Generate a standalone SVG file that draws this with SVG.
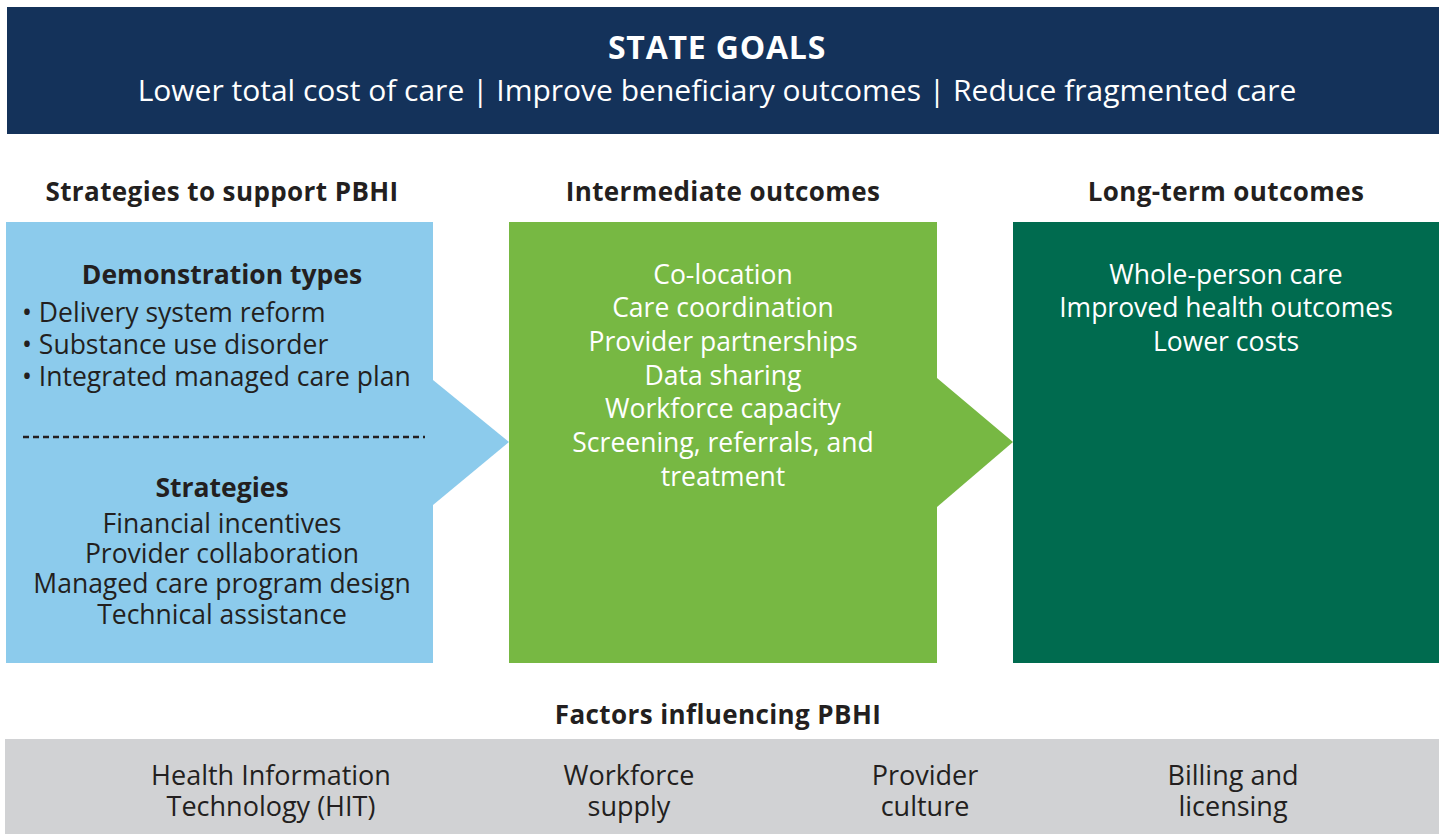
<svg xmlns="http://www.w3.org/2000/svg" width="1445" height="834" viewBox="0 0 1445 834">
<style>
text{font-family:"Open Sans",Lato,"Liberation Sans",sans-serif;text-anchor:middle}
.w{fill:#ffffff}
.k{fill:#231f20}
.b{font-weight:700}
.hd{font-size:26px;font-weight:700;fill:#231f20;letter-spacing:0.4px}
.sub{font-size:26.5px;font-weight:700;fill:#231f20}
.body{font-size:26.5px}
.gray{font-size:27px;fill:#231f20}
.l{text-anchor:start}
</style>
<rect width="1445" height="834" fill="#ffffff"/>
<g id="state-goals">
<rect x="7" y="7" width="1432" height="127" fill="#14325a"/>
<text x="717" y="59" class="w b" font-size="32" letter-spacing="0.8">STATE GOALS</text>
<text x="717" y="101" class="w" font-size="30">Lower total cost of care | Improve beneficiary outcomes | Reduce fragmented care</text>
</g>
<g id="headers">
<text x="222" y="201" class="hd">Strategies to support PBHI</text>
<text x="723" y="201" class="hd">Intermediate outcomes</text>
<text x="1226" y="201" class="hd">Long-term outcomes</text>
<text x="718" y="724" class="hd">Factors influencing PBHI</text>
</g>
<g id="connectors">
<polygon points="433,380 509,442 433,505" fill="#8ccbec"/>
<polygon points="937,378 1013,442 937,507" fill="#77b843"/>
</g>
<g id="strategies">
<rect x="6" y="222" width="427" height="441" fill="#8ccbec"/>
<text x="222" y="284" class="sub">Demonstration types</text>
<text x="22" y="322" class="k body l">• Delivery system reform</text>
<text x="22" y="354" class="k body l">• Substance use disorder</text>
<text x="22" y="386" class="k body l">• Integrated managed care plan</text>
<line x1="23" y1="437" x2="425" y2="437" stroke="#231f20" stroke-width="2.5" stroke-dasharray="6,4"/>
<text x="222" y="497" class="sub">Strategies</text>
<text x="222" y="533" class="k body">Financial incentives</text>
<text x="222" y="563" class="k body">Provider collaboration</text>
<text x="222" y="593" class="k body">Managed care program design</text>
<text x="222" y="624" class="k body">Technical assistance</text>
</g>
<g id="intermediate-outcomes">
<rect x="509" y="222" width="428" height="441" fill="#77b843"/>
<text x="723" y="284" class="w body">Co-location</text>
<text x="723" y="317" class="w body">Care coordination</text>
<text x="723" y="351" class="w body">Provider partnerships</text>
<text x="723" y="385" class="w body">Data sharing</text>
<text x="723" y="418" class="w body">Workforce capacity</text>
<text x="723" y="452" class="w body">Screening, referrals, and</text>
<text x="723" y="486" class="w body">treatment</text>
</g>
<g id="long-term-outcomes">
<rect x="1013" y="222" width="426" height="441" fill="#006b4f"/>
<text x="1226" y="284" class="w body">Whole-person care</text>
<text x="1226" y="317" class="w body">Improved health outcomes</text>
<text x="1226" y="351" class="w body">Lower costs</text>
</g>
<g id="factors">
<rect x="5" y="739" width="1434" height="95" fill="#d1d2d4"/>
<text x="271" y="785" class="gray">Health Information</text>
<text x="271" y="816" class="gray">Technology (HIT)</text>
<text x="629" y="785" class="gray">Workforce</text>
<text x="629" y="816" class="gray">supply</text>
<text x="925" y="785" class="gray">Provider</text>
<text x="925" y="816" class="gray">culture</text>
<text x="1233" y="785" class="gray">Billing and</text>
<text x="1233" y="816" class="gray">licensing</text>
</g>
</svg>
